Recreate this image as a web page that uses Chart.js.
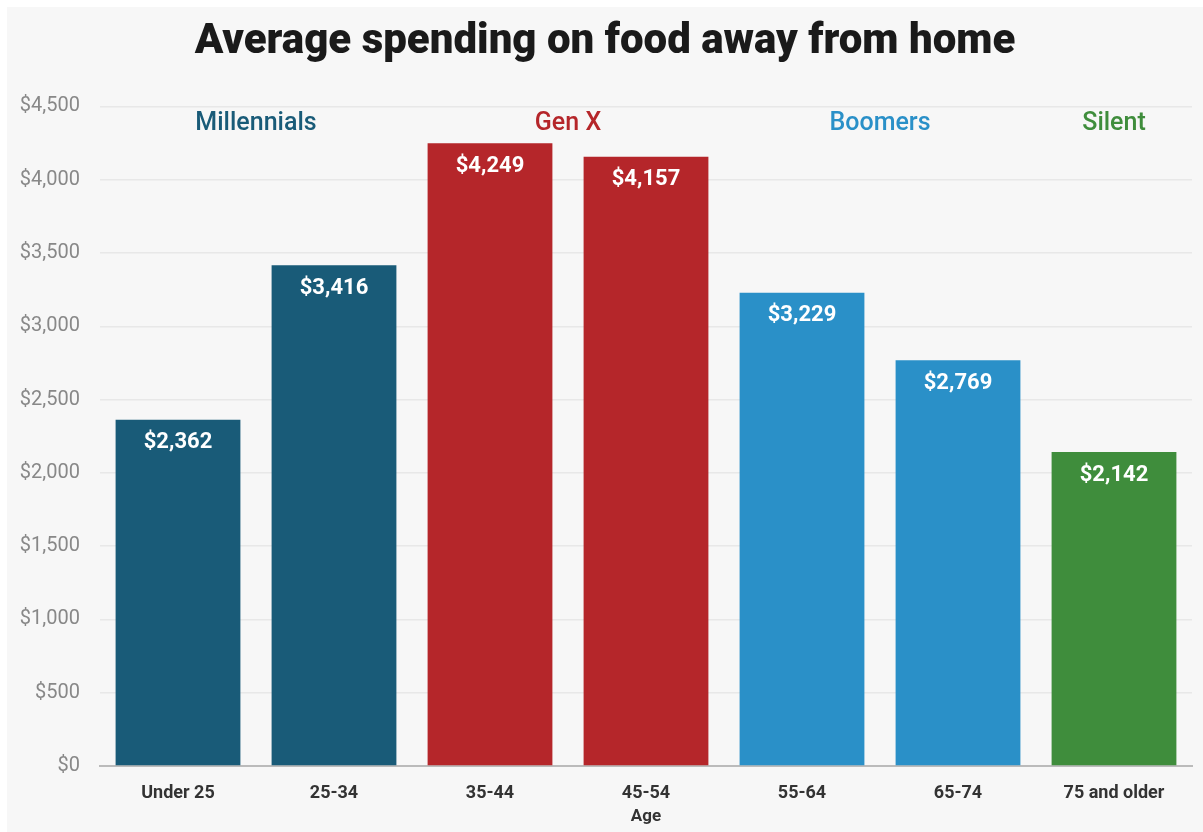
<!DOCTYPE html>
<html>
<head>
<meta charset="utf-8">
<script src="https://cdn.jsdelivr.net/npm/chart.js@4"></script>
<style>
  body { margin: 0; background: #fff; }
  #wrap { position: absolute; left: 7px; top: 7px; width: 1196px; height: 825px; background: #f7f7f7; }
</style>
</head>
<body>
<div id="wrap"><canvas id="myChart"></canvas></div>
<script>
var ages = ['Under 25', '25-34', '35-44', '45-54', '55-64', '65-74', '75 and older'];
var spending = [2362, 3416, 4249, 4157, 3229, 2769, 2142];
var generations = ['Millennials', 'Gen X', 'Boomers', 'Silent'];
var genColors = ['#195b78', '#b5262a', '#2a90c8', '#3f8d3c'];
var genOfAge = [0, 0, 1, 1, 2, 2, 3];
var yTicks = [0, 500, 1000, 1500, 2000, 2500, 3000, 3500, 4000, 4500];

var money = function (v) { return '$' + v.toLocaleString('en-US'); };

// white value labels inside the top of each bar
var valueLabels = {
    id: 'valueLabels',
    afterDatasetsDraw: function (chart) {
        var ctx = chart.ctx;
        var meta = chart.getDatasetMeta(0);
        ctx.save();
        ctx.font = 'bold 22px Roboto';
        ctx.fillStyle = '#ffffff';
        ctx.textAlign = 'center';
        ctx.textBaseline = 'middle';
        meta.data.forEach(function (bar, i) {
            ctx.fillText(money(spending[i]), bar.x, bar.y + 23);
        });
        ctx.restore();
    }
};

// generation names above each group of bars
var genLabels = {
    id: 'genLabels',
    afterDatasetsDraw: function (chart) {
        var ctx = chart.ctx;
        var x = chart.scales.x;
        var top = chart.chartArea.top;
        ctx.save();
        ctx.font = '500 25px Roboto';
        ctx.textAlign = 'center';
        ctx.textBaseline = 'middle';
        generations.forEach(function (g, gi) {
            var idx = [];
            genOfAge.forEach(function (v, i) { if (v === gi) idx.push(i); });
            var cx = (x.getPixelForValue(idx[0]) + x.getPixelForValue(idx[idx.length - 1])) / 2;
            ctx.fillStyle = genColors[gi];
            ctx.fillText(g, cx, top + 17);
        });
        ctx.restore();
    }
};

var ctx = document.getElementById('myChart').getContext('2d');
var myChart = new Chart(ctx, {
    type: 'bar',
    data: {
        labels: ages,
        datasets: [{
            data: spending,
            backgroundColor: genOfAge.map(function (g) { return genColors[g]; }),
            barPercentage: 0.8,
            categoryPercentage: 1.0,
        }],
    },
    options: {
        responsive: true,
        maintainAspectRatio: false,
        animation: false,
        layout: {
            padding: { left: 11, right: 11, top: 0, bottom: 0 },
        },
        plugins: {
            tooltip: { enabled: false },
            legend: { display: false },
            title: {
                display: true,
                text: 'Average spending on food away from home',
                color: '#1a1a1a',
                font: { size: 42, weight: 900, family: 'Roboto' },
                padding: { top: 10, bottom: 39 },
            },
        },
        scales: {
            x: {
                grid: { display: false, drawTicks: false },
                border: { color: '#bbbbbb', width: 2 },
                afterFit: function (axis) { axis.height = 66; },
                ticks: {
                    color: '#333333',
                    padding: 17,
                    maxRotation: 0,
                    font: { size: 18, weight: 'bold', family: 'Roboto' },
                },
                title: {
                    display: true,
                    text: 'Age',
                    color: '#333333',
                    font: { size: 17, weight: 'bold', family: 'Roboto' },
                    padding: { top: 0, bottom: 5 },
                },
            },
            y: {
                min: 0,
                max: 4500,
                afterBuildTicks: function (axis) {
                    axis.ticks = yTicks.map(function (v) { return { value: v }; });
                },
                afterFit: function (axis) { axis.width = 82; },
                grid: { color: '#e8e8e8', lineWidth: 1.5, drawTicks: false },
                border: { display: false },
                ticks: {
                    color: '#888888',
                    padding: 20,
                    font: { size: 20, family: 'Roboto' },
                    callback: function (v) { return money(v); },
                },
            },
        },
    },
    plugins: [valueLabels, genLabels],
});
</script>
</body>
</html>
